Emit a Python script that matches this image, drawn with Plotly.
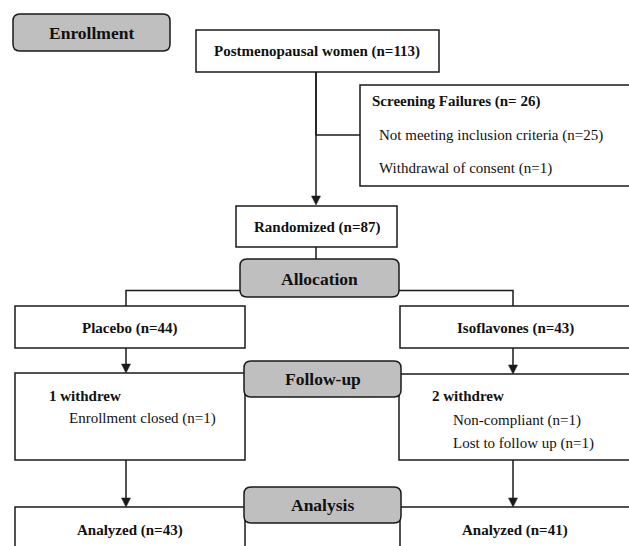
import plotly.graph_objects as go

# ---- content (text) ----
stage_labels = ["Enrollment", "Allocation", "Follow-up", "Analysis"]
enrolled_label = "Postmenopausal women (n=113)"
screen_title = "Screening Failures (n= 26)"
screen_reasons = ["Not meeting inclusion criteria (n=25)", "Withdrawal of consent (n=1)"]
randomized_label = "Randomized (n=87)"
arm_labels = ["Placebo (n=44)", "Isoflavones (n=43)"]
withdrew_titles = ["1 withdrew", "2 withdrew"]
withdrew_reasons = [["Enrollment closed (n=1)"], ["Non-compliant (n=1)", "Lost to follow up (n=1)"]]
analyzed_labels = ["Analyzed (n=43)", "Analyzed (n=41)"]

W, H = 629, 546
FONT = "'Liberation Serif', 'Times New Roman', serif"
LC = "#1a1a1a"
LW = 1.5
GREY = "#bfbfbf"
TS = 15      # body text size
SS = 17.5    # stage label size

shapes = []
annots = []

def rect(x0, y0, x1, y1):
    shapes.append(dict(type="rect", xref="x", yref="y", x0=x0, y0=y0, x1=x1, y1=y1,
                       line=dict(color=LC, width=LW), fillcolor="white", layer="above"))

def rrect(x0, y0, x1, y1, r=7):
    p = (f"M {x0+r},{y0} L {x1-r},{y0} Q {x1},{y0} {x1},{y0+r} L {x1},{y1-r} "
         f"Q {x1},{y1} {x1-r},{y1} L {x0+r},{y1} Q {x0},{y1} {x0},{y1-r} "
         f"L {x0},{y0+r} Q {x0},{y0} {x0+r},{y0} Z")
    shapes.append(dict(type="path", xref="x", yref="y", path=p,
                       line=dict(color=LC, width=LW), fillcolor=GREY, layer="above"))

def line(pts):
    p = "M " + " L ".join(f"{x},{y}" for x, y in pts)
    shapes.append(dict(type="path", xref="x", yref="y", path=p,
                       line=dict(color=LC, width=LW), layer="above"))

def arrow(x, y0, y1):
    line([(x, y0), (x, y1 - 6)])
    p = f"M {x-4.5},{y1-9} L {x+4.5},{y1-9} L {x},{y1} Z"
    shapes.append(dict(type="path", xref="x", yref="y", path=p,
                       line=dict(color=LC, width=0.5), fillcolor=LC, layer="above"))

def text(x, y, s, size=TS, bold=False, anchor="center"):
    annots.append(dict(x=x, y=y, xref="x", yref="y", text=f"<b>{s}</b>" if bold else s,
                       showarrow=False, xanchor=anchor, yanchor="middle",
                       font=dict(family=FONT, size=size, color="#111")))

# connectors (drawn first)
line([(316, 72), (316, 135), (360, 135)])
arrow(316, 72, 205)
line([(316, 247), (316, 260)])
line([(240, 290.5), (126, 290.5), (126, 306)])
line([(399, 290.5), (513, 290.5), (513, 306)])
arrow(126, 348, 373)
arrow(513, 348, 374)
arrow(126, 460, 507)
arrow(513, 460, 507)

# boxes
rrect(13, 14, 170, 51)
text(91.5, 33, stage_labels[0], size=SS, bold=True)

rect(196, 30, 439, 72)
text(317, 51, enrolled_label, bold=True)

rect(360, 85, 640, 186)
text(370, 101, screen_title, bold=True, anchor="left")
text(377, 135, screen_reasons[0], anchor="left")
text(377, 168, screen_reasons[1], anchor="left")

rect(236, 206, 397, 247)
text(316.5, 227, randomized_label, bold=True)

rrect(240, 259, 399, 297)
text(319.5, 279, stage_labels[1], size=SS, bold=True)

rect(15, 306, 245, 348)
text(130, 328, arm_labels[0], bold=True)
rect(400, 306, 640, 348)
text(515, 328, arm_labels[1], bold=True)

rect(15, 373, 245, 460)
text(47, 396, withdrew_titles[0], bold=True, anchor="left")
for i, r in enumerate(withdrew_reasons[0]):
    text(67, 418 + 23 * i, r, anchor="left")
rect(399, 374, 640, 460)
text(430, 396, withdrew_titles[1], bold=True, anchor="left")
for i, r in enumerate(withdrew_reasons[1]):
    text(451, 420 + 23 * i, r, anchor="left")

rrect(244, 361, 401, 397)
text(322.5, 379, stage_labels[2], size=SS, bold=True)

rect(15, 507, 245, 560)
text(130, 530, analyzed_labels[0], bold=True)
rect(400, 507, 640, 560)
text(515, 530, analyzed_labels[1], bold=True)

rrect(244, 487, 401, 523)
text(322.5, 505, stage_labels[3], size=SS, bold=True)

fig = go.Figure()
fig.update_layout(
    width=W, height=H, margin=dict(l=0, r=0, t=0, b=0),
    paper_bgcolor="white", plot_bgcolor="white",
    xaxis=dict(range=[0, W], visible=False, fixedrange=True),
    yaxis=dict(range=[H, 0], visible=False, fixedrange=True),
    shapes=shapes, annotations=annots, showlegend=False,
)
fig.write_html("out.html", config={"displayModeBar": False},
               post_script="document.body.style.margin='0';document.body.style.overflow='hidden';")
